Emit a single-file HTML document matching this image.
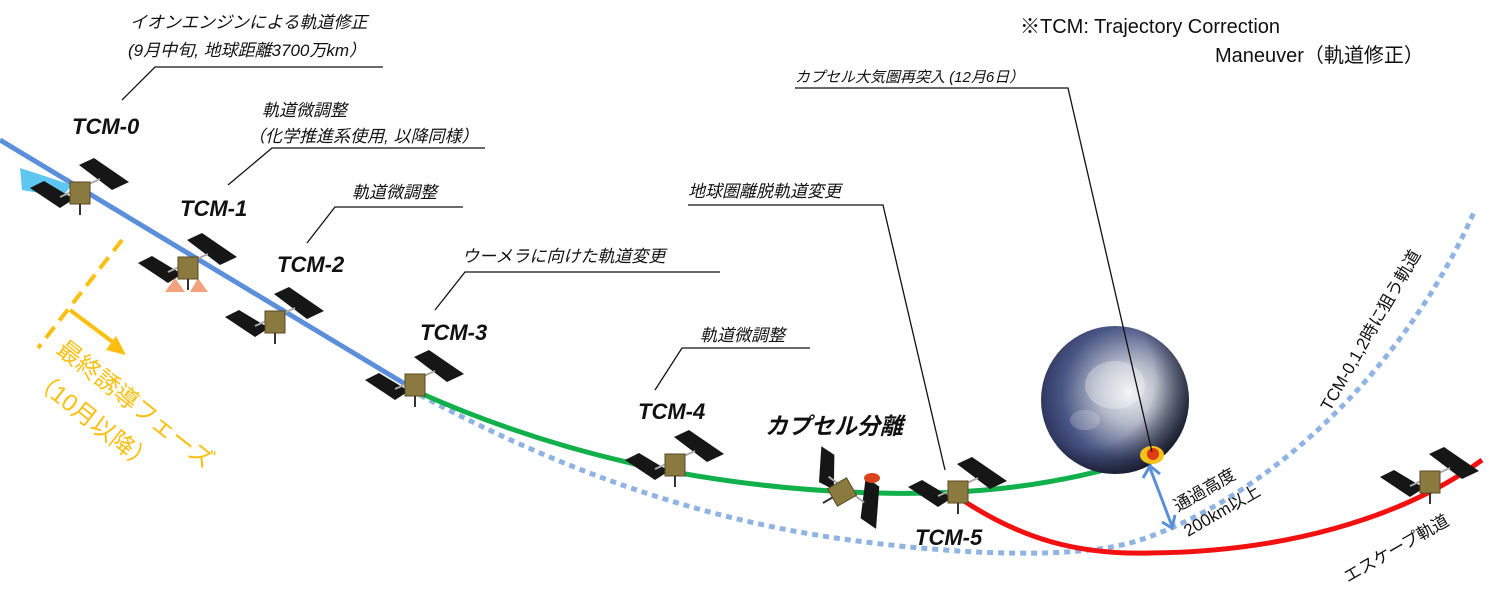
<!DOCTYPE html>
<html><head><meta charset="utf-8"><style>
html,body{margin:0;padding:0;background:#fff;}
svg{display:block;font-family:"Liberation Sans","Noto Sans CJK JP",sans-serif;}
.it{font-style:italic;font-size:17px;fill:#111;}
.tcm{font-style:italic;font-weight:bold;font-size:22px;fill:#111;}
</style></head><body>
<svg width="1490" height="604" viewBox="0 0 1490 604" xmlns="http://www.w3.org/2000/svg">
<defs>
<radialGradient id="earth" cx="0.6" cy="0.45" r="0.7">
<stop offset="0" stop-color="#eef0f3"/><stop offset="0.3" stop-color="#b3b9c8"/><stop offset="0.65" stop-color="#4a5685"/><stop offset="1" stop-color="#1e2448"/></radialGradient>
<radialGradient id="shade" cx="0.3" cy="0.35" r="0.85"><stop offset="0.55" stop-color="#000" stop-opacity="0"/><stop offset="1" stop-color="#000" stop-opacity="0.9"/></radialGradient>
<g id="sat">
<polygon points="-1,-28 14,-35 49,-11 32,-3" fill="#161616"/>
<polygon points="-50,-5 -36,-12 -6,6 -20,15" fill="#161616"/>
<line x1="-20" y1="4" x2="20" y2="-14" stroke="#aaa" stroke-width="2"/>
<rect x="-10" y="-11" width="20" height="22" fill="#8a7a40" stroke="#5a4a20"/>
<line x1="0" y1="11" x2="0" y2="22" stroke="#333" stroke-width="2"/>
</g>
</defs>

<path d="M420,395 C560,470 700,520 850,540 C960,555 1080,560 1140,540 C1260,500 1400,380 1475,210" fill="none" stroke="#8fb4e3" stroke-width="5" stroke-dasharray="6,5"/>
<line x1="0" y1="140" x2="420" y2="393" stroke="#5b8fd9" stroke-width="5"/>
<path d="M420,393 C560,455 700,485 850,492 C950,497 1050,490 1155,455" fill="none" stroke="#12b04a" stroke-width="5"/>
<path d="M955,495 C1020,540 1080,555 1150,553 C1280,552 1400,520 1482,460" fill="none" stroke="#f21010" stroke-width="5"/>

<circle cx="1115" cy="400" r="74" fill="url(#earth)"/>
<ellipse cx="1115" cy="385" rx="30" ry="24" fill="#fff" opacity="0.3"/>
<ellipse cx="1085" cy="420" rx="15" ry="10" fill="#fff" opacity="0.2"/>
<circle cx="1115" cy="400" r="74" fill="url(#shade)"/>
<ellipse cx="1152" cy="455" rx="12" ry="9" fill="#f4c21a"/>
<circle cx="1153" cy="454" r="6" fill="#e23a10"/>

<path d="M20,168 L72,185 L62,197 L22,190 Z" fill="#34b8ee" opacity="0.8"/>
<use href="#sat" x="80" y="193"/>
<path d="M175,278 L165,292 L185,292 Z M198,278 L190,292 L208,292 Z" fill="#e8642a" opacity="0.6"/>
<use href="#sat" x="188" y="268"/>
<use href="#sat" x="275" y="322"/>
<use href="#sat" x="415" y="385"/>
<use href="#sat" x="675" y="465"/>
<use href="#sat" x="842" y="492" transform="rotate(60 842 492)"/>
<ellipse cx="872" cy="478" rx="8" ry="5" fill="#d9431a"/>
<use href="#sat" x="958" y="492"/>
<use href="#sat" x="1430" y="482"/>

<g stroke="#111" stroke-width="1.3" fill="none">
<polyline points="122,100 155,67 383,67"/>
<polyline points="228,185 272,148 485,148"/>
<polyline points="307,243 335,207 463,207"/>
<polyline points="435,310 465,272 720,272"/>
<polyline points="655,390 682,348 810,348"/>
<polyline points="945,470 883,205 688,205"/>
<polyline points="1152,452 1068,88 795,88"/>
</g>

<text class="it" x="130" y="28">イオンエンジンによる軌道修正</text>
<text class="it" x="128" y="56">(9月中旬, 地球距離3700万km）</text>
<text class="tcm" x="72" y="134">TCM-0</text>
<text class="it" x="262" y="116">軌道微調整</text>
<text class="it" x="248" y="142">（化学推進系使用, 以降同様）</text>
<text class="tcm" x="180" y="216">TCM-1</text>
<text class="it" x="352" y="198">軌道微調整</text>
<text class="tcm" x="277" y="272">TCM-2</text>
<text class="it" x="462" y="262">ウーメラに向けた軌道変更</text>
<text class="tcm" x="420" y="340">TCM-3</text>
<text class="it" x="700" y="341">軌道微調整</text>
<text class="tcm" x="638" y="419">TCM-4</text>
<text x="765" y="434" style="font-style:italic;font-weight:bold;font-size:23px;fill:#111">カプセル分離</text>
<text class="it" x="688" y="197">地球圏離脱軌道変更</text>
<text class="it" x="795" y="82" style="font-size:15px">カプセル大気圏再突入 (12月6日）</text>
<text class="tcm" x="915" y="545">TCM-5</text>
<text x="1020" y="33" font-size="20" fill="#111">※TCM: Trajectory Correction</text>
<text x="1215" y="62" font-size="20" fill="#111">Maneuver（軌道修正）</text>
<text x="1178" y="512" font-size="17" fill="#111" transform="rotate(-30 1178 512)">通過高度</text>
<text x="1188" y="537" font-size="17" fill="#111" transform="rotate(-30 1188 537)">200km以上</text>
<text x="1330" y="412" font-size="17" fill="#111" transform="rotate(-60 1330 412)">TCM-0,1,2時に狙う軌道</text>
<text x="1348" y="583" font-size="17" fill="#111" transform="rotate(-30 1348 583)">エスケープ軌道</text>

<g stroke="#5b8fd9" stroke-width="3" fill="none">
<line x1="1150" y1="468" x2="1172" y2="526"/>
<polyline points="1143,478 1150,466 1160,474"/>
<polyline points="1162,522 1172,528 1175,515"/>
</g>

<line x1="122" y1="240" x2="38" y2="348" stroke="#fbbf10" stroke-width="4" stroke-dasharray="14,8"/>
<line x1="70" y1="310" x2="118" y2="346" stroke="#fbbf10" stroke-width="4"/>
<polygon points="126,355 106,350 116,336" fill="#fbbf10"/>
<text x="55" y="352" font-size="24" fill="#fbbf10" transform="rotate(38 55 352)">最終誘導フェーズ</text>
<text x="30" y="382" font-size="24" fill="#fbbf10" transform="rotate(38 30 382)">（10月以降）</text>
</svg>
</body></html>
